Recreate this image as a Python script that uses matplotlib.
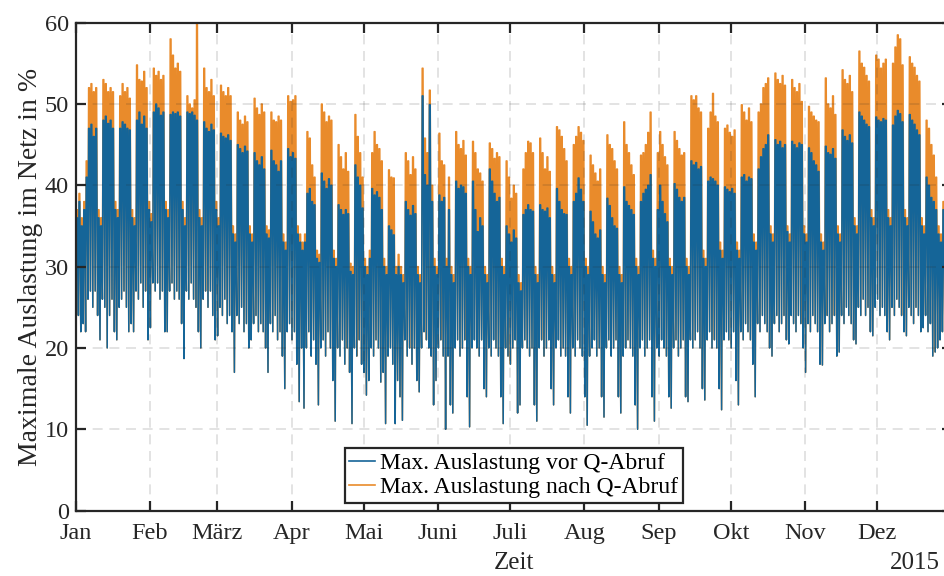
import numpy as np
import matplotlib
matplotlib.use("Agg")
import matplotlib.pyplot as plt
import matplotlib.dates as mdates
from datetime import datetime

plt.rcParams['font.family'] = ['Liberation Serif', 'DejaVu Serif']

# ---------------- data (daily values, day 0 = 1 Jan 2015) ----------------
# daily maximum of "Max. Auslastung vor Q-Abruf" (%)
blue_hi = [
    36, 38, 35, 37,
    41, 47, 47.5, 46, 47, 36, 35,
    48, 48.5, 47.6, 48, 47, 37, 36,
    47, 47.8, 47.5, 47, 46.8, 36, 35,
    48, 49, 47.5, 48.5, 47, 37, 35.5,
    49, 50, 49.5, 48.6, 49, 37, 36,
    48.7, 49, 48.8, 49, 48.5, 37, 35,
    49, 48.8, 49, 48.6, 48, 36, 35,
    47.8, 47, 46.6, 47.5, 46.8, 37, 35,
    46.4, 46, 45.8, 46.2, 45.5, 34, 33,
    45, 44.5, 44, 44.8, 44.2, 34, 33,
    44, 43, 42.5, 43.5, 42, 34, 33.5,
    44.3, 43, 42.5, 41.7, 43, 33, 32,
    44.5, 43.5, 44, 43.3, 34, 33, 32,
    33, 39, 39.6, 38, 37.6, 31, 30.5,
    41.5, 40.5, 39.6, 40.8, 40, 31, 30,
    37.6, 37, 36.4, 37, 36.5, 29.4, 29,
    42.5, 41, 40, 37.2, 30, 29, 31,
    39.6, 38.8, 39.2, 38.5, 37, 30, 29,
    35, 34.5, 33.9, 29, 30, 29, 28,
    38, 37, 36.3, 37.5, 36.5, 29, 28,
    51, 41.3, 40, 49.9, 38, 30, 29,
    38.8, 38, 38.5, 30, 37, 29, 28,
    40.5, 39.6, 40, 39.8, 39, 30, 29,
    40.5, 37, 34.3, 36, 35, 29, 28,
    42, 40.5, 39, 38, 38.5, 30, 29,
    35, 34, 33, 34.5, 33.5, 28, 27,
    36.4, 37, 37.6, 37, 36.8, 29, 28,
    37.6, 37, 36.8, 37.2, 36, 29, 28,
    39.6, 38, 37, 36.5, 36.4, 30, 29,
    38, 39, 40.9, 39.5, 38, 30, 29,
    36.8, 35.5, 34, 33.5, 34.5, 29, 28,
    38.4, 37.5, 36, 35, 34.7, 29, 28,
    39.8, 38, 37.5, 37, 36.4, 30, 29,
    38, 39, 39.5, 40, 41.3, 31, 30,
    37, 40, 38, 36.5, 35.5, 30, 29,
    40.2, 39.5, 38.5, 38, 38.5, 30, 29,
    43, 42.5, 42.8, 42, 42.3, 31, 30,
    40.5, 41, 40.8, 40.5, 40, 32, 31,
    39.8, 39.5, 39.2, 39.6, 39, 32, 31,
    41, 41.3, 40.5, 41, 40.8, 33, 32,
    42, 43.5, 44.5, 45, 46.2, 34, 33,
    45.6, 45, 45.4, 44.6, 45, 34.3, 33,
    45.4, 45, 44.6, 45.2, 45, 34, 33,
    44.6, 44, 43, 42.5, 41.7, 33, 32,
    44.8, 44, 43.8, 44.5, 43.3, 34, 33,
    46.8, 46, 45.5, 46.2, 45.2, 35, 34,
    49, 48.5, 48, 47.5, 47.2, 36, 35,
    48.4, 48, 47.8, 48.2, 48, 36, 35,
    47.4, 48.5, 49.2, 48.8, 47.8, 36, 35,
    48.7, 48, 47.5, 46.8, 46.2, 35, 34,
    41, 40, 38.5, 38, 37, 34, 33,
    37, 36,
]

# daily maximum of "Max. Auslastung nach Q-Abruf" (%)
orange_hi = [
    37, 39, 36, 38,
    43, 52, 52.5, 51.5, 52, 37, 36,
    53, 52.5, 51.5, 52, 51.5, 38, 37,
    51, 52.5, 51.5, 52, 50.7, 37, 36,
    54.8, 53, 52.8, 54, 52, 38, 36.5,
    54.4, 53.5, 54, 53, 53.5, 38, 37,
    58, 56, 54.4, 55, 54, 38, 36,
    51, 50, 49.5, 50.5, 60, 37, 36,
    54.4, 52, 51.5, 53, 51, 38, 36,
    52.3, 51.5, 51, 52, 51, 35, 34,
    49, 48, 47.5, 48.5, 47.8, 35, 34,
    50.7, 49.5, 48.7, 50, 49, 35, 34.5,
    49, 48, 47.8, 48.5, 48, 34, 33,
    51, 50.3, 50.5, 51, 35, 34, 33,
    34, 46.6, 45.8, 42.5, 41, 32, 31.5,
    50, 49, 47.8, 48.5, 48, 32, 31,
    45, 43.5, 42, 44, 41.7, 30.4, 30,
    48.7, 46, 44, 41, 31, 30, 32,
    44, 46.6, 45, 44.5, 43, 31, 30,
    41.9, 41, 40.9, 30, 31.5, 30, 29,
    44, 43, 41.3, 43.5, 42, 30, 29,
    54.4, 45.8, 44, 51.7, 40, 31, 30,
    46.4, 43, 42.5, 31, 41, 30, 29,
    46.6, 45, 44.5, 45.5, 43.7, 31, 30,
    45.4, 44, 42, 41.5, 40.5, 30, 29,
    45.2, 44.5, 43.3, 44, 43.5, 31, 30,
    43, 41, 38.4, 40, 39, 29, 28,
    42, 44, 45.4, 45.2, 44, 30, 29,
    45.8, 44, 42, 43.5, 41.7, 30, 29,
    47.2, 46.8, 46, 44.5, 43, 31, 30,
    45, 46, 47.2, 46.5, 45.5, 31, 30,
    43.7, 42.5, 41.5, 40.5, 42, 30, 29,
    46.2, 45, 44.5, 43, 42, 30, 29,
    47.8, 45, 44, 42.5, 41.3, 31, 30,
    43.7, 44, 45, 46.5, 49, 32, 31,
    44, 46.6, 45, 43.5, 42.5, 31, 30,
    46.6, 45.5, 44.5, 43.7, 44, 31, 30,
    51, 50.5, 51, 49.5, 49, 32, 31,
    47, 49, 51.3, 48.5, 47.8, 33, 32,
    47, 47.4, 46.5, 46, 46.8, 33, 32,
    49.9, 49, 48, 49.5, 47.8, 34, 33,
    49, 50, 52, 52.5, 53.2, 35, 34,
    53.8, 53, 52.5, 53.5, 52.3, 35, 34,
    53, 52, 51.5, 52.5, 50.3, 35, 34,
    49.7, 49, 48.5, 48, 47.8, 34, 33,
    53.2, 50, 49.5, 51, 48.7, 35, 34,
    54.2, 53, 52.5, 53.5, 51.5, 36, 35,
    56.5, 55, 54.5, 53.5, 52.8, 37, 36,
    56, 55.5, 54.4, 55, 55.5, 37, 36,
    55, 57, 58.5, 58, 54.8, 37, 36,
    55.8, 55, 54.5, 53.5, 52.8, 36, 35,
    48, 47, 45, 43.7, 41, 35, 34,
    38, 37,
]

# daily minimum (night / low-load hours), equal before and after Q-Abruf (%)
daily_lo = [
    23, 24, 22, 23,
    22, 26, 27, 25, 27, 24, 21,
    26, 25, 20, 24, 26, 22, 21,
    25, 26, 27, 25, 22, 23, 22,
    27, 26, 28, 25, 27, 21, 22.5,
    28, 27, 28, 26, 27, 22, 22,
    27, 28, 26, 27, 26, 23, 18.7,
    27, 26, 28, 26, 25, 22, 20,
    26, 27, 25, 27, 24, 21, 21.5,
    25, 24, 26, 23, 24, 22, 17,
    24, 23, 25, 22, 23, 20, 21,
    23, 24, 22, 23, 22, 20, 17,
    23, 22, 24, 21, 22, 19, 15,
    22, 23, 21, 22, 18, 13.4, 20,
    12.6, 20, 22, 19, 21, 18, 13,
    20, 21, 19, 22, 20, 16, 11,
    20, 19, 21, 18, 20, 17, 10.7,
    20, 19, 21, 18, 17, 14.2, 16,
    20, 19, 21, 20, 15.8, 17, 10.7,
    19, 20, 18, 10.7, 16, 14, 11.1,
    21, 19, 20, 18, 20, 16, 14.6,
    20, 22, 21, 20, 19, 13, 16,
    20, 21, 19, 10, 19, 13, 12,
    20, 21, 19, 20, 21, 14, 10.3,
    20, 21, 20, 19, 21, 15, 14,
    20, 19, 21, 20, 19, 14, 10.7,
    20, 19, 18, 20, 21, 12, 13,
    20, 21, 20, 19, 20, 13, 11,
    20, 21, 19, 20, 21, 15, 13,
    20, 21, 19, 20, 19, 14, 12,
    20, 19, 21, 20, 19, 14, 10.5,
    19, 20, 21, 19, 20, 14, 11.5,
    20, 21, 19, 20, 21, 14, 12,
    19, 20, 21, 20, 19, 13, 10,
    20, 21, 19, 20, 21, 14, 11,
    20, 19, 21, 20, 19, 14, 12.6,
    20, 21, 19, 20, 21, 14, 13.4,
    21, 20, 21, 22, 20, 15, 13.6,
    21, 22, 20, 21, 20, 15, 12.4,
    21, 22, 21, 20, 22, 16, 13,
    22, 21, 23, 22, 21, 18, 14,
    23, 22, 24, 23, 22, 20, 19,
    23, 24, 22, 23, 24, 21, 20.5,
    24, 23, 22, 24, 23, 20, 17,
    23, 22, 24, 23, 22, 18, 17.9,
    23, 24, 22, 23, 24, 19, 19.5,
    24, 23, 25, 24, 23, 21, 20.5,
    25, 24, 26, 24, 25, 22, 21.5,
    25, 26, 24, 25, 24, 22, 21,
    25, 24, 26, 25, 24, 22, 21.5,
    25, 24, 23, 25, 24, 22, 22.5,
    24, 22, 23, 19, 19.5, 20, 21,
    22, 21,
]

# hours of day: daily low at night, daily peak plateau from morning to evening
low_hour = 4
peak_start_hour = 10
peak_end_hour = 18

month_labels = ['Jan', 'Feb', 'März', 'Apr', 'Mai', 'Juni',
                'Juli', 'Aug', 'Sep', 'Okt', 'Nov', 'Dez']
series_labels = ['Max. Auslastung vor Q-Abruf', 'Max. Auslastung nach Q-Abruf']
year_label = '2015'

# ---------------- build time series ----------------
start = mdates.date2num(datetime(2015, 1, 1))
n = len(blue_hi)
d = np.arange(n)
t = np.empty(3 * n)
t[0::3] = start + d + low_hour / 24.0
t[1::3] = start + d + peak_start_hour / 24.0
t[2::3] = start + d + peak_end_hour / 24.0

blue_y = np.empty(3 * n)
blue_y[0::3] = daily_lo
blue_y[1::3] = blue_hi
blue_y[2::3] = blue_hi
orange_y = np.empty(3 * n)
orange_y[0::3] = daily_lo
orange_y[1::3] = orange_hi
orange_y[2::3] = orange_hi

# ---------------- plot ----------------
blue = '#156598'
orange = '#E98B2B'
dark = '#262626'

fig = plt.figure(figsize=(9.44, 5.76), dpi=100)
W, H = 944.0, 576.0
x0, x1 = 75.6, 951.6
y_top, y_bot = 22.7, 510.6
ax = fig.add_axes([x0 / W, 1 - y_bot / H, (x1 - x0) / W, (y_bot - y_top) / H])

lo, = ax.plot(t, orange_y, color=orange, lw=1.1, label=series_labels[1])
lb, = ax.plot(t, blue_y, color=blue, lw=1.1, label=series_labels[0])

ax.set_xlim(start, mdates.date2num(datetime(2016, 1, 1)))
ax.set_ylim(0, 60)
ax.set_yticks(np.arange(0, 61, 10))
ax.set_xticks([mdates.date2num(datetime(2015, m, 1)) for m in range(1, 13)])
ax.set_xticklabels(month_labels)

ax.set_axisbelow(False)
ax.grid(True, color=dark, alpha=0.15, linestyle=(0, (6, 4)), lw=1.2)

for s in ax.spines.values():
    s.set_linewidth(1.6)
    s.set_color(dark)
ax.tick_params(direction='in', length=7, width=1.6, top=True, right=True,
               labelsize=17.5, colors=dark)
ax.tick_params(axis='x', pad=9)
ax.tick_params(axis='y', pad=5)

ax.set_ylabel('Maximale Auslastung im Netz in %', fontsize=20, color=dark)
ax.yaxis.set_label_coords(-0.037, 0.5)
ax.set_xlabel('Zeit', fontsize=18, color=dark, labelpad=6)
fig.text(940 / W, 2 / H, year_label, ha='right', va='bottom',
         fontsize=18, color=dark)

leg = ax.legend(handles=[lb, lo], loc='lower center', bbox_to_anchor=(0.5, 0.0155),
                fontsize=17, frameon=True, fancybox=False, edgecolor=dark,
                framealpha=1, handlelength=1.1, handletextpad=0.2,
                borderpad=0.2, labelspacing=0.1, borderaxespad=0)
leg.get_frame().set_linewidth(1.6)
for line in leg.get_lines():
    line.set_linewidth(1.2)
for txt in leg.get_texts():
    txt.set_color('black')

fig.savefig('out.png', dpi=100)
